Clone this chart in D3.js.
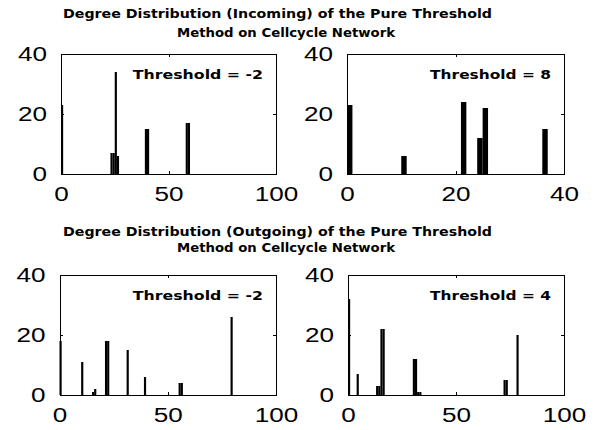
<html>
<head>
<style>
  body { margin: 0; background: #ffffff; }
  svg { display: block; }
</style>
<script src="https://cdn.jsdelivr.net/npm/d3@7"></script>
</head>
<body>
<svg id="chart"></svg>
<script>
// titles
const titleIncoming = ["Degree Distribution (Incoming) of the Pure Threshold", "Method on Cellcycle Network"];
const titleOutgoing = ["Degree Distribution (Outgoing) of the Pure Threshold", "Method on Cellcycle Network"];

// tick labels
const xTicksDegree = [0, 50, 100];
const xTicksShort = [0, 20, 40];
const yTicks = [0, 20, 40];

// incoming, threshold -2 (degree bins, node counts)
const inNegBins   = [0, 23, 24, 25, 26, 39, 40, 58, 59];
const inNegCounts = [23, 7, 7, 34, 6, 15, 15, 17, 17];

// incoming, threshold 8
const inPosBins   = [0, 10, 21, 24, 25, 36];
const inPosCounts = [23, 6, 24, 12, 22, 15];

// outgoing, threshold -2
const outNegBins   = [0, 10, 15, 16, 21, 22, 31, 39, 55, 56, 79];
const outNegCounts = [18, 11, 1, 2, 18, 18, 15, 6, 4, 4, 26];

// outgoing, threshold 4
const outPosBins   = [0, 4, 13, 14, 15, 16, 30, 31, 32, 33, 72, 73, 78];
const outPosCounts = [32, 7, 3, 3, 22, 22, 12, 12, 1, 1, 5, 5, 20];

const thresholdLabels = ["Threshold = -2", "Threshold = 8", "Threshold = -2", "Threshold = 4"];

const ancho = 595, alto = 430;
const svg = d3.select("#chart").attr("width", ancho).attr("height", alto);

function dibujarTitulo(lineas, y1, y2) {
    svg.append("text")
        .attr("x", 277.5).attr("y", y1)
        .attr("text-anchor", "middle")
        .attr("font-family", "DejaVu Sans").attr("font-weight", "bold").attr("font-size", 13)
        .attr("textLength", 429).attr("lengthAdjust", "spacingAndGlyphs")
        .text(lineas[0]);
    svg.append("text")
        .attr("x", 286).attr("y", y2)
        .attr("text-anchor", "middle")
        .attr("font-family", "DejaVu Sans").attr("font-weight", "bold").attr("font-size", 13)
        .attr("textLength", 218).attr("lengthAdjust", "spacingAndGlyphs")
        .text(lineas[1]);
}

function estirarTexto(g) {
    g.selectAll("text")
        .attr("font-family", "Liberation Sans, Arial, sans-serif")
        .attr("font-size", 20)
        .attr("fill", "#000")
        .attr("textLength", function () { return this.textContent.length * 14.5; })
        .attr("lengthAdjust", "spacingAndGlyphs");
}

function dibujarPanel(cfg) {
    const { left, right, top, bottom, xMax, xTicks, bins, counts, etiqueta } = cfg;

    const escalaX = d3.scaleLinear().domain([0, xMax]).range([left, right]);
    const escalaY = d3.scaleLinear().domain([0, 40]).range([bottom, top]);

    const datos = bins.map((b, i) => ({ bin: b, count: counts[i] }));

    const g = svg.append("g");

    g.selectAll(".barra")
        .data(datos)
        .enter().append("rect")
            .attr("class", "barra")
            .attr("x", d => escalaX(d.bin))
            .attr("width", d => escalaX(d.bin + 1) - escalaX(d.bin))
            .attr("y", d => escalaY(d.count))
            .attr("height", d => escalaY(0) - escalaY(d.count))
            .attr("fill", "#000");

    const ejeAbajo = g.append("g").attr("transform", `translate(0,${bottom})`)
        .call(d3.axisBottom(escalaX).tickValues(xTicks).tickSizeInner(-3).tickSizeOuter(0).tickPadding(13));
    const ejeArriba = g.append("g").attr("transform", `translate(0,${top})`)
        .call(d3.axisTop(escalaX).tickValues(xTicks).tickSizeInner(-3).tickSizeOuter(0).tickFormat(""));
    const ejeIzq = g.append("g").attr("transform", `translate(${left},0)`)
        .call(d3.axisLeft(escalaY).tickValues(yTicks).tickSizeInner(-3).tickSizeOuter(0).tickPadding(14));
    const ejeDer = g.append("g").attr("transform", `translate(${right},0)`)
        .call(d3.axisRight(escalaY).tickValues(yTicks).tickSizeInner(-3).tickSizeOuter(0).tickFormat(""));

    [ejeAbajo, ejeArriba, ejeIzq, ejeDer].forEach(e => {
        e.selectAll("path, line").attr("stroke", "#000").attr("shape-rendering", "crispEdges");
    });
    estirarTexto(ejeAbajo);
    estirarTexto(ejeIzq);

    g.append("text")
        .attr("x", right - 13).attr("y", top + 25)
        .attr("text-anchor", "end")
        .attr("font-family", "DejaVu Sans").attr("font-weight", "bold").attr("font-size", 13)
        .attr("textLength", etiqueta.length * 9.3).attr("lengthAdjust", "spacingAndGlyphs")
        .text(etiqueta);
}

dibujarTitulo(titleIncoming, 18.3, 36.5);
dibujarTitulo(titleOutgoing, 235.7, 251.7);

dibujarPanel({ left: 61, right: 276, top: 54, bottom: 174, xMax: 100, xTicks: xTicksDegree,
    bins: inNegBins, counts: inNegCounts, etiqueta: thresholdLabels[0] });
dibujarPanel({ left: 347, right: 564, top: 54, bottom: 174, xMax: 40, xTicks: xTicksShort,
    bins: inPosBins, counts: inPosCounts, etiqueta: thresholdLabels[1] });
dibujarPanel({ left: 59.5, right: 276, top: 275, bottom: 395, xMax: 100, xTicks: xTicksDegree,
    bins: outNegBins, counts: outNegCounts, etiqueta: thresholdLabels[2] });
dibujarPanel({ left: 348, right: 564, top: 275, bottom: 395, xMax: 100, xTicks: xTicksDegree,
    bins: outPosBins, counts: outPosCounts, etiqueta: thresholdLabels[3] });
</script>
</body>
</html>
